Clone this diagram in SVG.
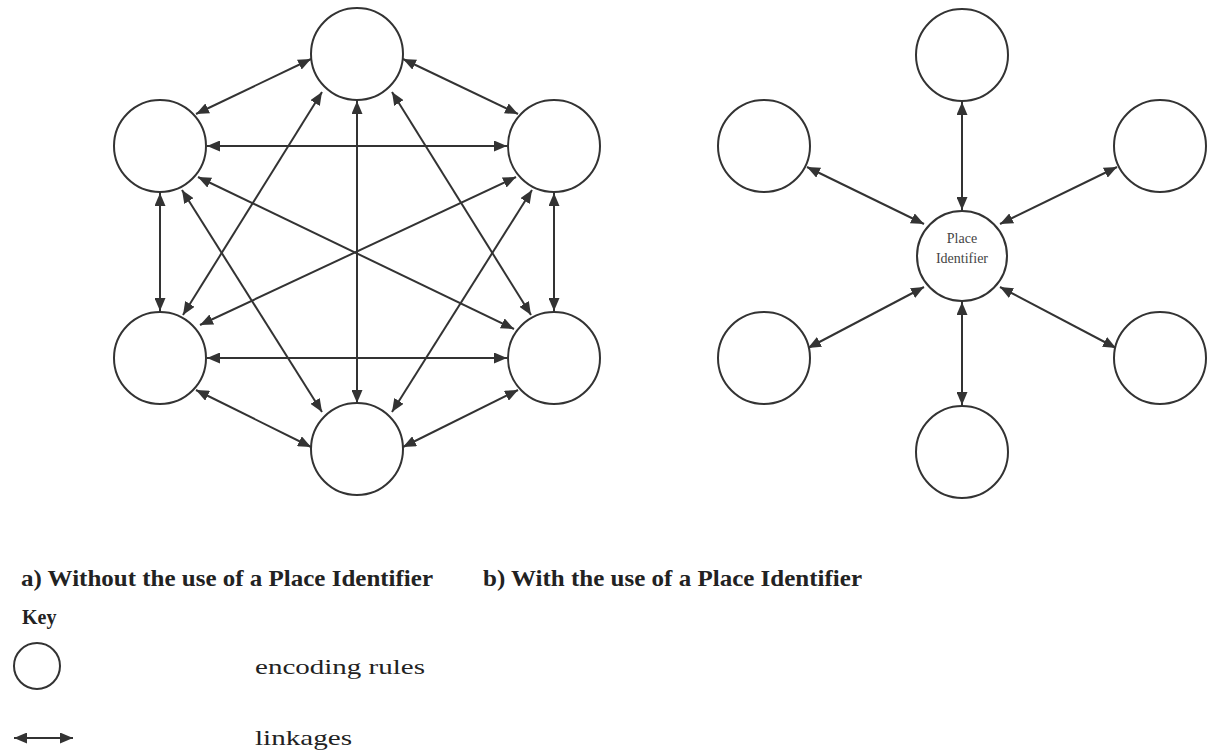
<svg xmlns="http://www.w3.org/2000/svg" width="1207" height="754" viewBox="0 0 1207 754">
<style>
.node{fill:#fff;stroke:#333;stroke-width:2}
.link{stroke:#333;stroke-width:2;fill:none;marker-start:url(#ah);marker-end:url(#ah)}
.cap{font-family:"Liberation Serif",serif;font-weight:bold;font-size:23px;fill:#222}
.key{font-family:"Liberation Serif",serif;font-size:22px;fill:#222}
.lbl{font-family:"Liberation Serif",serif;font-size:14px;fill:#444}
</style>
<defs>
<marker id="ah" viewBox="0 0 13 11" refX="13" refY="5.5" markerWidth="13" markerHeight="11" markerUnits="userSpaceOnUse" orient="auto-start-reverse">
<path d="M0,0 L13,5.5 L0,11 z" fill="#333"/>
</marker>
</defs>
<g id="connectors">
<!-- left diagram -->
<line class="link" x1="311" y1="59" x2="196" y2="114"/>
<line class="link" x1="403" y1="59" x2="518" y2="114"/>
<line class="link" x1="322" y1="92" x2="183" y2="315"/>
<line class="link" x1="392" y1="92" x2="531" y2="315"/>
<line class="link" x1="357" y1="101" x2="357" y2="403"/>
<line class="link" x1="207" y1="146" x2="507" y2="146"/>
<line class="link" x1="160" y1="193" x2="160" y2="311"/>
<line class="link" x1="554" y1="193" x2="554" y2="311"/>
<line class="link" x1="198" y1="177" x2="514" y2="329"/>
<line class="link" x1="516" y1="177" x2="200" y2="325"/>
<line class="link" x1="182" y1="190" x2="322" y2="412"/>
<line class="link" x1="532" y1="190" x2="392" y2="412"/>
<line class="link" x1="207" y1="358" x2="507" y2="358"/>
<line class="link" x1="196" y1="390" x2="311" y2="447"/>
<line class="link" x1="518" y1="390" x2="403" y2="447"/>
<!-- right diagram -->
<line class="link" x1="962" y1="102" x2="962" y2="210"/>
<line class="link" x1="807" y1="167" x2="924" y2="224"/>
<line class="link" x1="1117" y1="167" x2="1000" y2="224"/>
<line class="link" x1="808" y1="348" x2="924" y2="287"/>
<line class="link" x1="1116" y1="348" x2="1000" y2="287"/>
<line class="link" x1="962" y1="302" x2="962" y2="405"/>
</g>
<g id="a-top"><circle class="node" cx="357" cy="54" r="46"/></g>
<g id="a-upper-left"><circle class="node" cx="160" cy="146" r="46"/></g>
<g id="a-upper-right"><circle class="node" cx="554" cy="146" r="46"/></g>
<g id="a-lower-left"><circle class="node" cx="160" cy="358" r="46"/></g>
<g id="a-lower-right"><circle class="node" cx="554" cy="358" r="46"/></g>
<g id="a-bottom"><circle class="node" cx="357" cy="449" r="46"/></g>
<g id="b-top"><circle class="node" cx="962" cy="55" r="46"/></g>
<g id="b-upper-left"><circle class="node" cx="764" cy="146" r="46"/></g>
<g id="b-upper-right"><circle class="node" cx="1160" cy="146" r="46"/></g>
<g id="b-lower-left"><circle class="node" cx="764" cy="358" r="46"/></g>
<g id="b-lower-right"><circle class="node" cx="1160" cy="358" r="46"/></g>
<g id="b-bottom"><circle class="node" cx="962" cy="452" r="46"/></g>
<g id="b-center"><circle class="node" cx="962" cy="256" r="45"/>
<text class="lbl" x="962" y="243" text-anchor="middle">Place</text>
<text class="lbl" x="962" y="263" text-anchor="middle">Identifier</text>
</g>
<g id="captions">
<text class="cap" x="21" y="586" textLength="412" lengthAdjust="spacingAndGlyphs">a) Without the use of a Place Identifier</text>
<text class="cap" x="483" y="586" textLength="379" lengthAdjust="spacingAndGlyphs">b) With the use of a Place Identifier</text>
</g>
<g id="key">
<text class="cap" x="22" y="624" style="font-size:20px">Key</text>
<circle class="node" cx="37" cy="666" r="23"/>
<text class="key" x="255" y="674" textLength="170" lengthAdjust="spacingAndGlyphs">encoding rules</text>
<line class="link" x1="14" y1="738" x2="73" y2="738"/>
<text class="key" x="255" y="745" textLength="97" lengthAdjust="spacingAndGlyphs">linkages</text>
</g>
</svg>
